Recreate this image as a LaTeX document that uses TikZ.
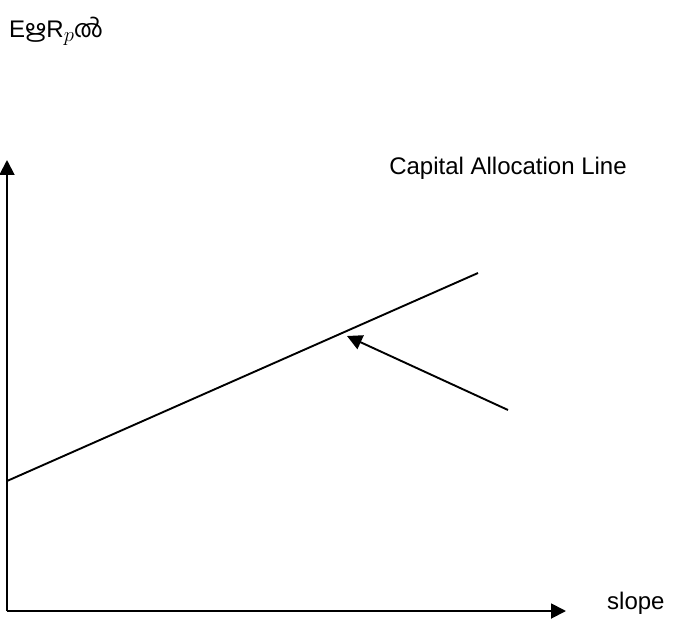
\documentclass[tikz,border=0pt]{standalone}
\usepackage{fontspec}
\setmainfont{Liberation Sans}
\newfontfamily\mlfont[Script=Malayalam]{Hind Kochi}
\usetikzlibrary{arrows.meta}
\tikzset{
  ax/.style={line width=1.9bp, -{Triangle[length=15bp,width=15bp]}},
  cal/.style={line width=1.9bp},
  lbl/.style={font=\fontsize{24bp}{28bp}\selectfont, inner sep=0pt}
}
\begin{document}
\begin{tikzpicture}[x=1bp,y=-1bp]
\useasboundingbox (0,0) rectangle (675,623);
\coordinate (O) at (7,611);
\coordinate (ytip) at (7,160);
\coordinate (xtip) at (566,611);
\coordinate (cA) at (7,481);
\coordinate (cB) at (478,273);
\coordinate (pTail) at (508,410);
\coordinate (pTip) at (347,336);
\draw[ax] (O) -- (ytip);
\draw[ax] (O) -- (xtip);
\draw[cal] (cA) -- (cB);
\draw[ax] (pTail) -- (pTip);
\node[lbl, anchor=base west] (ylab) at (9,38) {E{\mlfont ഋ}R\raisebox{-4bp}{\fontsize{21bp}{21bp}\selectfont$p$}{\mlfont ൽ}};
\node[lbl, anchor=center] (callab) at (508,168) {Capital Allocation Line};
\node[lbl, anchor=base west] (xlab) at (607,609) {slope};
\end{tikzpicture}
\end{document}
